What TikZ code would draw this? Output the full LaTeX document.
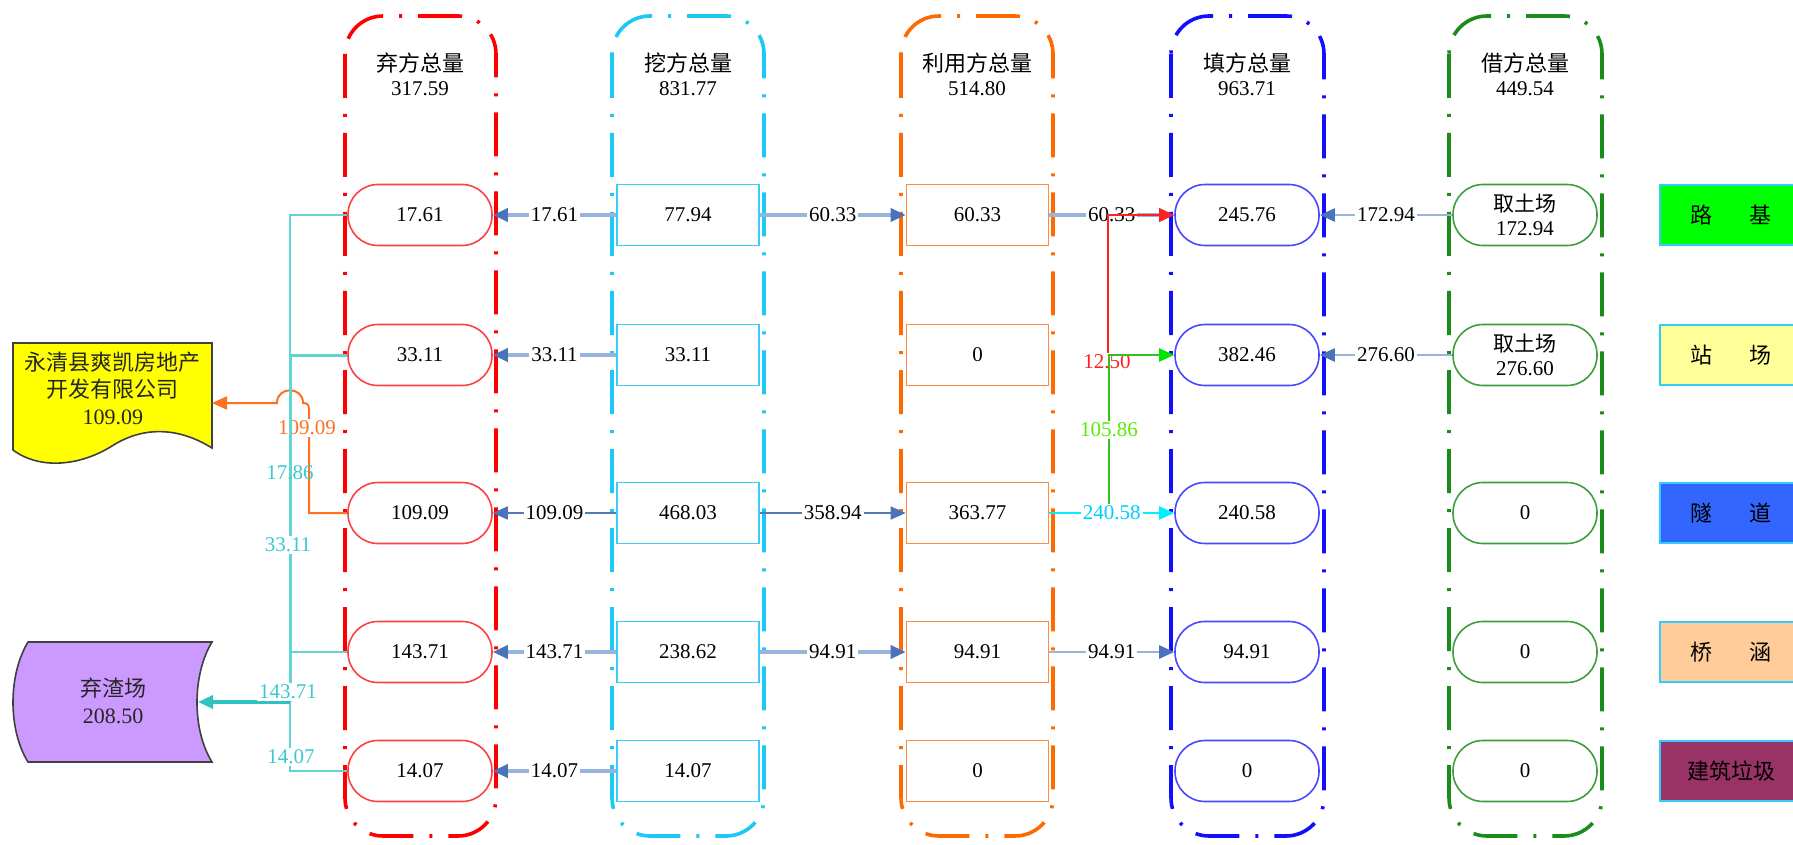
\documentclass[tikz,border=0pt]{standalone}
\usepackage{fontspec}
\setmainfont{Liberation Serif}
\newfontfamily\cjk{Noto Sans CJK SC}
\usetikzlibrary{arrows.meta}

% column frame colours
\definecolor{colRed}{HTML}{FF0000}
\definecolor{colCyan}{HTML}{1EC8F5}
\definecolor{colOrange}{HTML}{FF6A00}
\definecolor{colBlue}{HTML}{1010FF}
\definecolor{colGreen}{HTML}{1A8C1A}
% node outlines
\definecolor{edgeRed}{HTML}{FF4040}
\definecolor{edgeCyan}{HTML}{3CCDF5}
\definecolor{edgeOrange}{HTML}{FF8C40}
\definecolor{edgeBlue}{HTML}{4848FF}
\definecolor{edgeGreen}{HTML}{3C9E3C}
% connectors
\definecolor{lineLight}{HTML}{98B3DC}
\definecolor{lineDark}{HTML}{5579B8}
\definecolor{headBlue}{HTML}{4A73BA}
\definecolor{trunkLine}{HTML}{62D4D4}
\definecolor{trunkHead}{HTML}{2EC2C2}
\definecolor{trunkText}{HTML}{3CC8D0}
\definecolor{flowOrange}{HTML}{FF7020}
\definecolor{flowRed}{HTML}{FF2020}
\definecolor{flowGreen}{HTML}{30C020}
\definecolor{textGreen}{HTML}{55EE00}
\definecolor{flowCyan}{HTML}{00F0FF}
% side shapes and legend
\definecolor{docYellow}{HTML}{FFFF00}
\definecolor{dumpPurple}{HTML}{CC99FF}
\definecolor{shapeEdge}{HTML}{404040}
\definecolor{legGreen}{HTML}{00FF00}
\definecolor{legYellow}{HTML}{FFFF99}
\definecolor{legBlue}{HTML}{3366FF}
\definecolor{legPeach}{HTML}{FFCC99}
\definecolor{legMaroon}{HTML}{993366}
\definecolor{legEdge}{HTML}{33CCFF}

\begin{document}
\begin{tikzpicture}[x=0.5pt,y=-0.5pt,
  font=\fontsize{10.5}{12.5}\selectfont,
  cn/.style={font=\fontsize{11}{13}\selectfont\cjk},
  frame/.style={line width=1.8pt, rounded corners=19pt,
    dash pattern=on 22pt off 8pt on 1.5pt off 8pt},
  pill/.style={draw, line width=0.8pt, rounded corners=15pt, fill=white,
    minimum width=72pt, minimum height=30.5pt, inner sep=0pt, align=center},
  boxnode/.style={draw, line width=0.8pt, fill=white,
    minimum width=71pt, minimum height=30.5pt, inner sep=0pt},
  legendbox/.style={draw=legEdge, line width=0.8pt,
    minimum width=71pt, minimum height=30pt, inner sep=0pt,
    font=\fontsize{11}{13}\selectfont\cjk},
  tip/.style={-{Triangle[length=7.5pt,width=6.5pt,color=#1]}},
  flow/.style={draw=lineLight, line width=1.7pt, tip=headBlue},
  flowthin/.style={draw=lineDark, line width=0.8pt, tip=headBlue},
  flowmid/.style={draw=lineLight, line width=1.2pt, tip=headBlue},
  lbl/.style={fill=white, inner sep=1pt, text=black},
]
\clip (0,0) rectangle (1793,845);
\useasboundingbox (0,0) rectangle (1793,845);

% ---------- column frames ----------
\draw[frame, draw=colRed]    (345,16)  rectangle (496,836);
\draw[frame, draw=colCyan]   (612,16)  rectangle (764,836);
\draw[frame, draw=colOrange] (901,16)  rectangle (1053,836);
\draw[frame, draw=colBlue]   (1171,16) rectangle (1324,836);
\draw[frame, draw=colGreen]  (1449,16) rectangle (1602,836);

% ---------- column headings ----------
\node[cn] (hA) at (420,63)  {弃方总量};   \node (vA) at (420,89)  {317.59};
\node[cn] (hB) at (688,63)  {挖方总量};   \node (vB) at (688,89)  {831.77};
\node[cn] (hC) at (977,63)  {利用方总量}; \node (vC) at (977,89)  {514.80};
\node[cn] (hD) at (1247,63) {填方总量};   \node (vD) at (1247,89) {963.71};
\node[cn] (hE) at (1525,63) {借方总量};   \node (vE) at (1525,89) {449.54};

% ---------- spoil column ----------
\node[pill, draw=edgeRed] (r1) at (420,215) {17.61};
\node[pill, draw=edgeRed] (r2) at (420,355) {33.11};
\node[pill, draw=edgeRed] (r3) at (420,513) {109.09};
\node[pill, draw=edgeRed] (r4) at (420,652) {143.71};
\node[pill, draw=edgeRed] (r5) at (420,771) {14.07};

% ---------- excavation column ----------
\node[boxnode, draw=edgeCyan] (w1) at (688,215) {77.94};
\node[boxnode, draw=edgeCyan] (w2) at (688,355) {33.11};
\node[boxnode, draw=edgeCyan] (w3) at (688,513) {468.03};
\node[boxnode, draw=edgeCyan] (w4) at (688,652) {238.62};
\node[boxnode, draw=edgeCyan] (w5) at (688,771) {14.07};

% ---------- reuse column ----------
\node[boxnode, draw=edgeOrange] (u1) at (977.5,215) {60.33};
\node[boxnode, draw=edgeOrange] (u2) at (977.5,355) {0};
\node[boxnode, draw=edgeOrange] (u3) at (977.5,513) {363.77};
\node[boxnode, draw=edgeOrange] (u4) at (977.5,652) {94.91};
\node[boxnode, draw=edgeOrange] (u5) at (977.5,771) {0};

% ---------- fill column ----------
\node[pill, draw=edgeBlue] (f1) at (1247,215) {245.76};
\node[pill, draw=edgeBlue] (f2) at (1247,355) {382.46};
\node[pill, draw=edgeBlue] (f3) at (1247,513) {240.58};
\node[pill, draw=edgeBlue] (f4) at (1247,652) {94.91};
\node[pill, draw=edgeBlue] (f5) at (1247,771) {0};

% ---------- borrow column ----------
\node[pill, draw=edgeGreen, font=\fontsize{10.5}{12}\selectfont] (b1) at (1525,215) {{\cjk 取土场}\\172.94};
\node[pill, draw=edgeGreen, font=\fontsize{10.5}{12}\selectfont] (b2) at (1525,355) {{\cjk 取土场}\\276.60};
\node[pill, draw=edgeGreen] (b3) at (1525,513) {0};
\node[pill, draw=edgeGreen] (b4) at (1525,652) {0};
\node[pill, draw=edgeGreen] (b5) at (1525,771) {0};

% ---------- legend ----------
\node[legendbox, fill=legGreen]  (L1) at (1731,215) {路\hspace{1.7em}基};
\node[legendbox, fill=legYellow] (L2) at (1731,355) {站\hspace{1.7em}场};
\node[legendbox, fill=legBlue]   (L3) at (1731,513) {隧\hspace{1.7em}道};
\node[legendbox, fill=legPeach]  (L4) at (1731,652) {桥\hspace{1.7em}涵};
\node[legendbox, fill=legMaroon] (L5) at (1731,771) {建筑垃圾};

% ---------- main flows ----------
\draw[flow]     (w1.west) -- node[lbl] {17.61}  (r1.east);
\draw[flow]     (w1.east) -- node[lbl] {60.33}  (u1.west);
\draw[flow]     (u1.east) -- node[lbl] {60.33}  (f1.west);
\draw[flowmid]  (b1.west) -- node[lbl] {172.94} (f1.east);
\draw[flow]     (w2.west) -- node[lbl] {33.11}  (r2.east);
\draw[flowmid]  (b2.west) -- node[lbl] {276.60} (f2.east);
\draw[flowthin] (w3.west) -- node[lbl] {109.09} (r3.east);
\draw[flowthin] (w3.east) -- node[lbl] {358.94} (u3.west);
\draw[flow]     (w4.west) -- node[lbl] {143.71} (r4.east);
\draw[flow]     (w4.east) -- node[lbl] {94.91}  (u4.west);
\draw[flowmid]  (u4.east) -- node[lbl] {94.91}  (f4.west);
\draw[flow]     (w5.west) -- node[lbl] {14.07}  (r5.east);

% ---------- transfers between fill rows ----------
\coordinate (redFrom) at (1108,360);
\coordinate (greenFrom) at (1109,513);
\draw[flowRed, line width=1pt, tip=flowRed] (redFrom) |- (f1.west);
\node[lbl, text=flowRed] (lRed) at (1107,362) {12.50};
\draw[flowGreen, line width=1pt, tip=green!90!black] (greenFrom) |- (f2.west);
\node[lbl, text=textGreen] (lGreen) at (1109,430) {105.86};
\draw[flowCyan, line width=1pt, tip=flowCyan] (u3.east) -- node[lbl, text=flowCyan!85!blue] {240.58} (f3.west);

% ---------- off-site destinations ----------
\path[draw=shapeEdge, line width=0.8pt, fill=docYellow]
  (13,343) -- (212,343) -- (212,448)
  .. controls (175,425) and (140,428) .. (112,446)
  .. controls (80,466) and (40,470) .. (13,450) -- cycle;
\node[font=\fontsize{11}{13.5}\selectfont, align=center, text=black!85] (company) at (113,388)
  {{\cjk 永清县爽凯房地产}\\{\cjk 开发有限公司}\\109.09};
\coordinate (companyE) at (212,403);

\path[draw=shapeEdge, line width=0.8pt, fill=dumpPurple]
  (28,642) -- (212,642)
  .. controls (192,675) and (192,730) .. (212,762)
  -- (28,762)
  .. controls (8,730) and (8,675) .. (28,642) -- cycle;
\node[font=\fontsize{11}{13.5}\selectfont, align=center, text=black!85] (dump) at (113,701)
  {{\cjk 弃渣场}\\208.50};
\coordinate (dumpE) at (198,702);

% sold spoil, hopping over the collector line
\draw[flowOrange, line width=1pt, tip=flowOrange]
  (r3.west) -- (309,513) -- (309,409)
  .. controls (309,405) and (307,403) .. (303,403)
  .. controls (303,386) and (277,386) .. (277,403)
  -- (companyE);
\node[lbl, text=flowOrange] (lOrange) at (307,428) {109.09};

% collector line to the spoil ground
\coordinate (J) at (290,702);
\draw[trunkLine, line width=1.1pt] (r1.west) -| (J);
\draw[trunkLine, line width=1.5pt] (r2.west) -| (J);
\draw[trunkLine, line width=1.1pt] (r4.west) -| (J);
\draw[trunkLine, line width=1.1pt] (r5.west) -| (J);
\draw[trunkHead, line width=1.7pt, tip=trunkHead] (J) -- (dumpE);
\node[inner sep=1pt, text=trunkText] (t1) at (290,473) {17.86};
\node[lbl, text=trunkText] (t2) at (288,545) {33.11};
\node[lbl, text=trunkText] (t4) at (288,692) {143.71};
\node[lbl, text=trunkText] (t5) at (291,757) {14.07};
\end{tikzpicture}
\end{document}
